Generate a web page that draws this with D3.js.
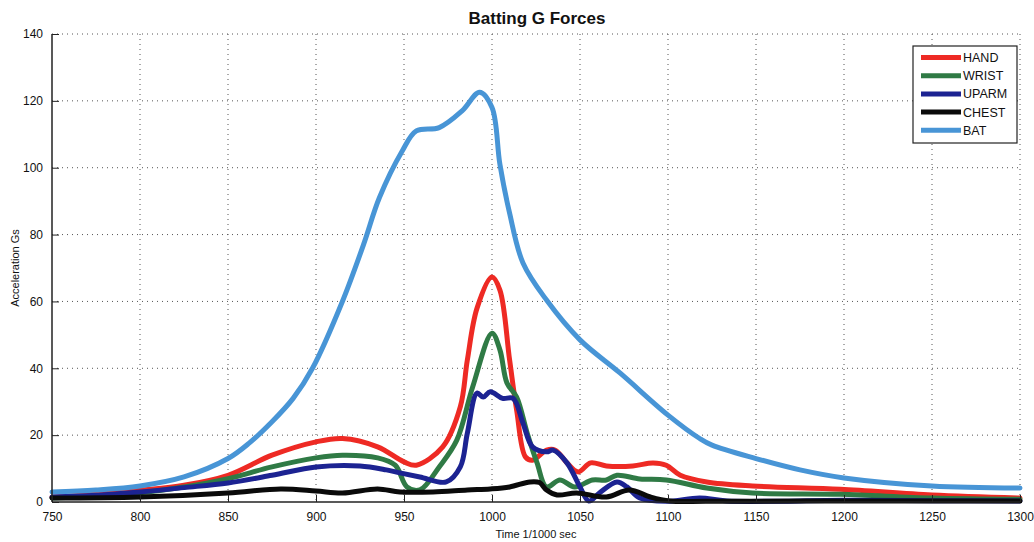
<!DOCTYPE html>
<html>
<head>
<meta charset="utf-8">
<script src="https://cdn.jsdelivr.net/npm/d3@7"></script>
<style>
  html, body { margin: 0; padding: 0; background: #fff; }
  svg { display: block; font-family: "Liberation Sans", Arial, sans-serif; }
</style>
</head>
<body>
<svg id="chart" width="1034" height="542"></svg>
<script>
// ---- Data ----
const title = "Batting G Forces";
const xLabel = "Time 1/1000 sec";
const yLabel = "Acceleration Gs";
const xTicks = [750, 800, 850, 900, 950, 1000, 1050, 1100, 1150, 1200, 1250, 1300];
const yTicks = [0, 20, 40, 60, 80, 100, 120, 140];
const seriesNames = ["HAND", "WRIST", "UPARM", "CHEST", "BAT"];
const seriesColors = ["#ee2a24", "#2f7a45", "#1c2392", "#0a0a0a", "#4895d6"];

const handX = [750, 775, 800, 825, 850, 875, 900, 915, 935, 950, 957, 972, 982, 986, 991.5, 1000, 1004.5, 1010, 1014, 1019, 1023, 1031, 1036, 1042.6, 1049, 1056, 1065, 1080, 1091.5, 1099, 1107, 1122, 1148, 1198, 1250, 1300];
const handY = [1.5, 2.3, 3.5, 5, 8, 14, 18, 19, 16.5, 12, 11, 16.5, 28.5, 42.5, 58, 67.3, 63.4, 42.5, 27.5, 13.5, 12.5, 15.5, 15.5, 11.7, 9, 11.7, 10.8, 10.8, 11.7, 11, 8, 6, 4.8, 3.8, 2.1, 1.2];

const wristX = [750, 775, 800, 825, 850, 875, 900, 915, 935, 945, 951.7, 959, 970, 980, 989, 1000, 1004.5, 1008.5, 1014, 1020, 1025.6, 1031, 1038.6, 1047, 1057, 1065, 1071, 1084, 1099, 1122, 1148, 1198, 1250, 1300];
const wristY = [1.2, 1.8, 2.8, 4.5, 7, 10.5, 13.2, 14, 13.2, 11, 4.5, 3.6, 10.5, 18.5, 34.4, 50.5, 45.5, 35.6, 31.4, 20.6, 11.7, 4.5, 6.6, 4.5, 6.6, 6.6, 8, 6.9, 6.6, 4.2, 2.7, 2.3, 1.2, 0.8];

const uparmX = [750, 775, 800, 825, 850, 875, 900, 925, 940, 947.7, 959, 974, 982, 986, 991.5, 995, 999, 1006, 1012, 1017.6, 1023, 1031, 1034.7, 1042.6, 1050, 1055, 1061, 1071, 1076.7, 1084, 1099, 1118, 1133.5, 1200, 1250, 1300];
const uparmY = [1.5, 2, 3, 4.3, 5.7, 8, 10.5, 10.8, 9.6, 8.7, 7.5, 6, 10.5, 20.6, 32.6, 31.4, 33, 31, 31, 23.6, 16.5, 15, 15.5, 11.7, 4.5, 0.3, 2.7, 6, 4.5, 1.2, 0.2, 1.2, 0.3, 0.5, 0.4, 0.3];

const chestX = [750, 800, 850, 880, 900, 915, 935, 947.7, 966.5, 986, 999, 1010, 1021.6, 1027, 1031, 1037, 1048, 1065, 1078, 1090, 1101, 1122, 1200, 1300];
const chestY = [1.2, 1.5, 2.7, 3.9, 3.3, 2.7, 3.9, 3, 3, 3.6, 3.9, 4.5, 6, 5.8, 3.6, 2.1, 2.7, 1.5, 3.6, 1.5, 0.3, 0.2, 0.3, 0.3];

const batX = [750, 775, 800, 825, 850, 862, 875, 887, 898, 915, 927, 936, 949, 957, 970, 983, 993, 1000, 1004.5, 1010, 1017.6, 1031, 1050, 1072.7, 1100, 1118, 1125, 1150, 1175, 1200, 1250, 1300];
const batY = [3, 3.6, 4.8, 7.5, 13, 17.6, 24, 31, 40, 60, 77, 91, 105, 111, 112, 117, 122.6, 118, 101, 86.4, 71.5, 60.4, 48.5, 38.6, 26, 19, 17, 13, 9.6, 7.2, 4.8, 4.2];

const seriesX = [handX, wristX, uparmX, chestX, batX];
const seriesY = [handY, wristY, uparmY, chestY, batY];

// ---- Layout ----
const svg = d3.select("#chart");
const pLeft = 52, pRight = 1020, pTop = 34, pBottom = 502;

const x = d3.scaleLinear().domain([750, 1300]).range([pLeft, pRight]);
const y = d3.scaleLinear().domain([0, 140]).range([pBottom, pTop]);

// Grid (dotted)
const grid = svg.append("g");
grid.selectAll("line.vg").data(xTicks.slice(1)).enter().append("line")
  .attr("x1", d => x(d)).attr("x2", d => x(d))
  .attr("y1", pTop).attr("y2", pBottom)
  .attr("stroke", "#555").attr("stroke-width", 1).attr("stroke-dasharray", "1,4");
grid.selectAll("line.hg").data(yTicks.slice(1)).enter().append("line")
  .attr("x1", pLeft).attr("x2", pRight)
  .attr("y1", d => y(d)).attr("y2", d => y(d))
  .attr("stroke", "#555").attr("stroke-width", 1).attr("stroke-dasharray", "1,4");

// Lines
const line = d3.line().curve(d3.curveCatmullRom.alpha(0.5));
seriesNames.forEach((name, i) => {
  const pts = seriesX[i].map((xv, j) => [x(xv), y(seriesY[i][j])]);
  svg.append("path")
    .attr("d", line(pts))
    .attr("fill", "none")
    .attr("stroke", seriesColors[i])
    .attr("stroke-width", 5)
    .attr("stroke-linejoin", "round")
    .attr("stroke-linecap", "round");
});

// Axes
const xAxis = d3.axisBottom(x).tickValues(xTicks).tickSizeInner(-7).tickSizeOuter(0).tickPadding(10).tickFormat(d3.format("d"));
const yAxis = d3.axisLeft(y).tickValues(yTicks).tickSizeInner(-7).tickSizeOuter(0).tickPadding(9).tickFormat(d3.format("d"));

const gx = svg.append("g").attr("transform", `translate(0,${pBottom})`).call(xAxis);
const gy = svg.append("g").attr("transform", `translate(${pLeft},0)`).call(yAxis);
[gx, gy].forEach(g => {
  g.selectAll("text").attr("font-size", 12).attr("fill", "#111").attr("font-family", "Liberation Sans, Arial, sans-serif");
  g.selectAll("line").attr("stroke", "#222");
  g.select(".domain").attr("stroke", "#222").attr("stroke-width", 1.5);
});
gx.select(".domain").attr("d", `M${pLeft},0H${pRight}`);
gy.select(".domain").attr("d", `M0,${pBottom}V${pTop}`);

// Title and labels
svg.append("text").attr("x", 537).attr("y", 24).attr("text-anchor", "middle")
  .attr("font-size", 17).attr("font-weight", "bold").attr("fill", "#111").text(title);
svg.append("text").attr("x", 536).attr("y", 538).attr("text-anchor", "middle")
  .attr("font-size", 11).attr("fill", "#111").text(xLabel);
svg.append("text").attr("transform", `translate(19,${(pTop + pBottom) / 2}) rotate(-90)`)
  .attr("text-anchor", "middle").attr("font-size", 11).attr("fill", "#111").text(yLabel);

// Legend
const lg = svg.append("g");
lg.append("rect").attr("x", 913).attr("y", 46).attr("width", 104).attr("height", 97)
  .attr("fill", "#fff").attr("stroke", "#222").attr("stroke-width", 1.2);
seriesNames.forEach((name, i) => {
  const cy = 57.5 + i * 18.2;
  lg.append("line").attr("x1", 921).attr("x2", 961).attr("y1", cy).attr("y2", cy)
    .attr("stroke", seriesColors[i]).attr("stroke-width", 5);
  lg.append("text").attr("x", 963).attr("y", cy + 4.5).attr("font-size", 12.5)
    .attr("fill", "#111").text(name);
});
</script>
</body>
</html>
